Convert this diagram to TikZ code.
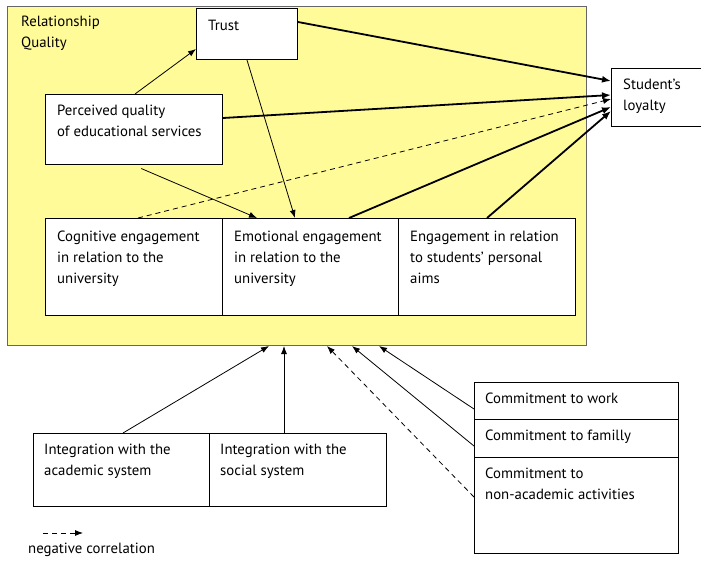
\documentclass[tikz,border=0pt]{standalone}
\usepackage{fontspec}
\setmainfont{PT Sans}
\usetikzlibrary{arrows.meta,calc}
\definecolor{rqyellow}{RGB}{255,251,153}
\tikzset{
  box/.style={draw, fill=white, line width=1pt, anchor=north west, inner sep=0pt},
  txt/.style={anchor=north west, align=left, inner sep=0pt, font=\fontsize{14.8}{20.7}\selectfont},
  thin arrow/.style={line width=0.8pt, -{Latex[length=8pt,width=6pt]}},
  thick arrow/.style={line width=1.8pt, -{Latex[length=9pt,width=7pt]}},
  neg arrow/.style={line width=0.8pt, dashed, dash pattern=on 5pt off 4pt, -{Latex[length=8pt,width=6pt]}}
}
\begin{document}
\begin{tikzpicture}[x=1pt, y=-1pt]
  \useasboundingbox (0,0) rectangle (701,560);
  % relationship quality
  \node[draw=black!60, fill=rqyellow, line width=1pt, anchor=north west, inner sep=0pt,
        minimum width=579pt, minimum height=339pt] (rq) at (7,6) {};
  \node[txt] (rq-t) at ($(rq.north west)+(14,10)$) {Relationship\\Quality};

  \node[box, minimum width=101pt, minimum height=51pt] (trust) at (196,8) {};
  \node[txt] (trust-t) at ($(trust.north west)+(12,12)$) {Trust};
  \node[box, minimum width=177pt, minimum height=70pt] (pq) at (45,94) {};
  \node[txt] (pq-t) at ($(pq.north west)+(12,11)$) {Perceived quality\\of educational services};

  \node[box, minimum width=177pt, minimum height=97pt] (cog) at (45,218) {};
  \node[txt] (cog-t) at ($(cog.north west)+(12,13)$) {Cognitive engagement\\in relation to the\\university};
  \node[box, minimum width=176pt, minimum height=97pt] (emo) at (222,218) {};
  \node[txt] (emo-t) at ($(emo.north west)+(12,13)$) {Emotional engagement\\in relation to the\\university};
  \node[box, minimum width=177pt, minimum height=97pt] (aims) at (398,218) {};
  \node[txt] (aims-t) at ($(aims.north west)+(12,13)$) {Engagement in relation\\to students' personal\\aims};

  \node[box, minimum width=95pt, minimum height=58pt] (loyal) at (611,68) {};
  \node[txt] (loyal-t) at ($(loyal.north west)+(12,11)$) {Student's\\loyalty};

  % integration
  \node[box, minimum width=176pt, minimum height=73pt] (acad) at (33,433) {};
  \node[txt] (acad-t) at ($(acad.north west)+(11,11)$) {Integration with the\\academic system};
  \node[box, minimum width=177pt, minimum height=73pt] (soc) at (209,433) {};
  \node[txt] (soc-t) at ($(soc.north west)+(11,11)$) {Integration with the\\social system};

  % commitment
  \node[box, minimum width=204pt, minimum height=37pt] (work) at (474,382) {};
  \node[txt] (work-t) at ($(work.north west)+(11,11)$) {Commitment to work};
  \node[box, minimum width=204pt, minimum height=38pt] (fam) at (474,419) {};
  \node[txt] (fam-t) at ($(fam.north west)+(11,11)$) {Commitment to familly};
  \node[box, minimum width=204pt, minimum height=96pt] (nonac) at (474,457) {};
  \node[txt] (nonac-t) at ($(nonac.north west)+(11,11)$) {Commitment to\\non-academic activities};

  % arrows inside
  \draw[thin arrow] ($(pq.north west)+(90,0)$) -- ($(trust.south west)+(0,-11)$);
  \draw[thick arrow] ($(trust.north east)+(0,14)$) -- ($(loyal.north west)+(0,13)$);
  \draw[thick arrow] ($(pq.north east)+(0,24)$) -- ($(loyal.north west)+(0,27)$);
  \draw[neg arrow] ($(cog.north west)+(93,0)$) -- ($(loyal.north west)+(0,31)$);
  \draw[thick arrow] ($(emo.north west)+(127,0)$) -- ($(loyal.north west)+(0,39)$);
  \draw[thick arrow] ($(aims.north west)+(89,0)$) -- ($(loyal.north west)+(0,43)$);
  \draw[thin arrow, shorten <=9pt] ($(pq.south west)+(88,0)$) -- ($(emo.north west)+(35,0)$);
  \draw[thin arrow] ($(trust.south west)+(51,0)$) -- ($(emo.north west)+(73,0)$);

  % arrows from below
  \draw[thin arrow] ($(acad.north west)+(90,0)$) -- ($(rq.south west)+(262,0)$);
  \draw[thin arrow] ($(soc.north west)+(75,0)$) -- ($(rq.south west)+(277,0)$);
  \draw[neg arrow] ($(nonac.north west)+(0,40)$) -- ($(rq.south west)+(320,0)$);
  \draw[thin arrow] ($(fam.north west)+(0,27)$) -- ($(rq.south west)+(345,0)$);
  \draw[thin arrow] ($(work.north west)+(0,27)$) -- ($(rq.south west)+(372,0)$);

  % legend
  \coordinate (leg-a) at (43,533);
  \coordinate (leg-b) at (83,533);
  \draw[neg arrow] (leg-a) -- (leg-b);
  \node[txt] (leg-t) at (28,543) {negative correlation};
\end{tikzpicture}
\end{document}
